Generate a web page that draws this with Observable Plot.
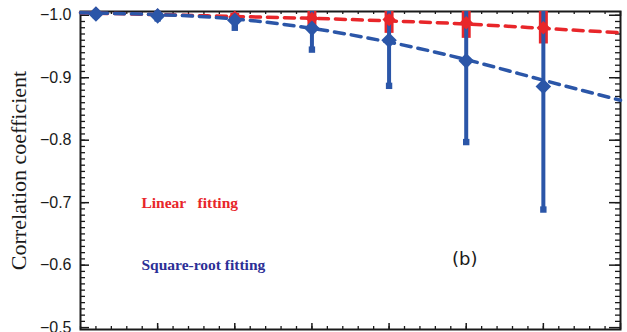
<!DOCTYPE html>
<html><head><meta charset="utf-8">
<script src="https://cdn.jsdelivr.net/npm/d3@7"></script>
<script src="https://cdn.jsdelivr.net/npm/@observablehq/plot@0.6"></script>
<style>body{margin:0;background:#fff}#chart svg{display:block}</style>
</head><body><div id="chart"></div>
<script>
// data
const xs = [0.2, 1, 2, 3, 4, 5, 6];
const linearR = [-1.003, -1.0, -0.997, -0.995, -0.993, -0.988, -0.98];
const linearErr = [0.003, 0.003, 0.006, 0.013, 0.022, 0.025, 0.026];
const sqrtR = [-1.002, -0.999, -0.992, -0.979, -0.96, -0.927, -0.886];
const sqrtErr = [0.002, 0.004, 0.012, 0.034, 0.073, 0.13, 0.197];
const fitX = [0, 1, 2, 3, 4, 5, 6, 7];
const linearFit = [-1.004, -1.001, -0.998, -0.995, -0.991, -0.986, -0.979, -0.972];
const sqrtFit = [-1.004, -1.001, -0.994, -0.979, -0.957, -0.929, -0.896, -0.864];
const yTicks = [-1.0, -0.9, -0.8, -0.7, -0.6, -0.5];
const xTicks = [1, 2, 3, 4, 5, 6, 7];
const labels = ["Linear   fitting", "Square-root fitting", "(b)"];
const yLabel = "Correlation coefficient";

const red = "#e8262a", blue = "#2b56a8", navy = "#2c2f96", ink = "#1a1a1a";
const W = 627, H = 332, mT = 11, mB = 3, mL = 80, mR = 7;
const fw = W - mL - mR, fh = H - mT - mB;
const yMinor = d3.range(100, 50, -1).map(v => -v / 100);
const xMinor = d3.range(0, 35).map(v => v / 5);

const pts = xs.map((x, i) => ({x, lr: linearR[i], le: linearErr[i], sr: sqrtR[i], se: sqrtErr[i]}));
const fits = fitX.map((x, i) => ({x, l: linearFit[i], s: sqrtFit[i]}));

const chart = Plot.plot({
  width: W, height: H,
  marginTop: mT, marginBottom: mB, marginLeft: mL, marginRight: mR,
  style: {fontFamily: "Liberation Sans, Arial, sans-serif", fontSize: "15px", color: ink, background: "#fff"},
  x: {domain: [0, 7], axis: null},
  y: {domain: [-1.006, -0.497], reverse: true, axis: null},
  marks: [
    // ticks (inward)
    Plot.tickX(xMinor, {x: d => d, insetTop: fh - 3, stroke: ink, strokeWidth: 1.3}),
    Plot.tickX(xTicks, {x: d => d, insetTop: fh - 6, stroke: ink, strokeWidth: 1.5}),
    Plot.tickX(xMinor, {x: d => d, insetBottom: fh - 3, stroke: ink, strokeWidth: 1.3}),
    Plot.tickX(xTicks, {x: d => d, insetBottom: fh - 5, stroke: ink, strokeWidth: 1.5}),
    Plot.tickY(yMinor, {y: d => d, insetRight: fw - 5, stroke: ink, strokeWidth: 1.3}),
    Plot.tickY(yTicks, {y: d => d, insetRight: fw - 9, stroke: ink, strokeWidth: 1.5}),
    Plot.tickY(yMinor, {y: d => d, insetLeft: fw - 5, stroke: ink, strokeWidth: 1.3}),
    Plot.tickY(yTicks, {y: d => d, insetLeft: fw - 11, stroke: ink, strokeWidth: 1.5}),
    Plot.axisY({ticks: yTicks, tickSize: 0, tickPadding: 9, tickFormat: d3.format(".1f"), label: null, fontSize: 16}),
    Plot.frame({stroke: ink, strokeWidth: 2}),
    // fitted curves
    Plot.line(fits, {x: "x", y: "l", stroke: red, strokeWidth: 3.5, strokeDasharray: "10,7", curve: "natural"}),
    Plot.line(fits, {x: "x", y: "s", stroke: blue, strokeWidth: 3.5, strokeDasharray: "10,7", curve: "natural"}),
    // error bars
    Plot.ruleX(pts, {x: "x", y1: d => d.lr - d.le, y2: d => d.lr + d.le, stroke: red, strokeWidth: 9, clip: true}),
    Plot.ruleX(pts, {x: "x", y1: d => d.sr - d.se, y2: d => d.sr + d.se, stroke: blue, strokeWidth: 4, clip: true}),
    Plot.dot(pts, {x: "x", y: d => d.sr + d.se, symbol: "square", r: 3.6, fill: blue}),
    // markers
    Plot.dot(pts, {x: "x", y: "lr", symbol: "diamond2", r: 6, fill: red}),
    Plot.dot(pts, {x: "x", y: "sr", symbol: "diamond2", r: 7, fill: blue}),
    // annotations
    Plot.text([labels[0]], {x: 0.79, y: -0.7, text: d => d, textAnchor: "start", fill: red, fontFamily: "Liberation Serif, serif", fontWeight: "bold", fontSize: 15.5}),
    Plot.text([labels[1]], {x: 0.79, y: -0.6, text: d => d, textAnchor: "start", fill: navy, fontFamily: "Liberation Serif, serif", fontWeight: "bold", fontSize: 15.5}),
    Plot.text([labels[2]], {x: 4.98, y: -0.61, text: d => d, fill: ink, fontFamily: "DejaVu Sans, sans-serif", fontSize: 18}),
    Plot.text([yLabel], {frameAnchor: "left", rotate: -90, dx: -62, textAnchor: "middle", text: d => d, fill: ink, fontFamily: "Liberation Serif, serif", fontSize: 22})
  ]
});
document.getElementById("chart").append(chart);
</script>
</body></html>
